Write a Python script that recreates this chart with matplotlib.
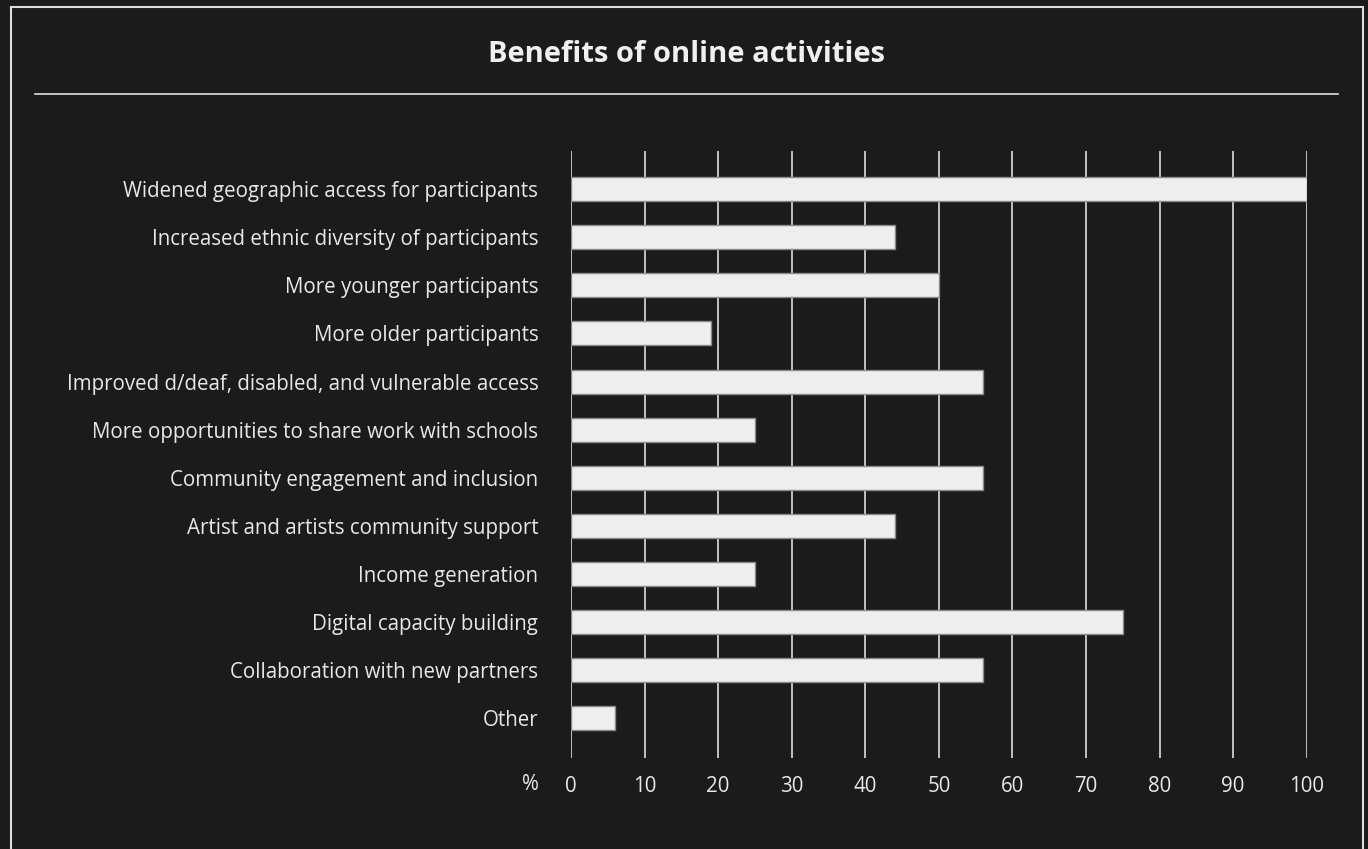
import matplotlib
matplotlib.use("Agg")
import matplotlib.pyplot as plt
from matplotlib.patches import Rectangle
from matplotlib.lines import Line2D

categories = [
    "Widened geographic access for participants",
    "Increased ethnic diversity of participants",
    "More younger participants",
    "More older participants",
    "Improved d/deaf, disabled, and vulnerable access",
    "More opportunities to share work with schools",
    "Community engagement and inclusion",
    "Artist and artists community support",
    "Income generation",
    "Digital capacity building",
    "Collaboration with new partners",
    "Other",
]
values = [100, 44, 50, 19, 56, 25, 56, 44, 25, 75, 56, 6]
xticks = [0, 10, 20, 30, 40, 50, 60, 70, 80, 90, 100]
title = "Benefits of online activities"

BG = "#1b1b1b"
FG = "#e8e8e8"
plt.rcParams['font.family'] = ['Open Sans', 'DejaVu Sans']

W, H = 1368, 849
fig = plt.figure(figsize=(W / 100, H / 100), dpi=100, facecolor=BG)

def fx(px):
    return px / W

def fy(py):
    return 1 - py / H

# outer border
fig.add_artist(Rectangle((fx(11), fy(900)), fx(1363) - fx(11), fy(6.5) - fy(900),
                         transform=fig.transFigure, fill=False,
                         edgecolor="#dddddd", linewidth=1.5))
# title
fig.text(fx(687), fy(54), title, ha="center", va="center", color="#f0f0f0",
         fontsize=21, fontweight="bold")
fig.add_artist(Line2D([fx(35), fx(1338)], [fy(94), fy(94)],
                      transform=fig.transFigure, color="#dddddd", linewidth=1.2))

left, right = 571, 1306.7
top, bottom = 150.7, 757.7
ax = fig.add_axes([fx(left), fy(bottom), fx(right) - fx(left), fy(top) - fy(bottom)])
ax.set_facecolor(BG)

ypos = list(range(len(categories)))
ax.barh(ypos, values, height=0.5, color="#eeeeee", edgecolor="#8a8a8a",
        linewidth=1.0, zorder=3)
ax.set_xlim(0, 100)
ax.set_ylim(11.82, -0.8)
ax.set_xticks(xticks)
ax.set_xticklabels([str(t) for t in xticks])
ax.set_yticks(ypos)
ax.set_yticklabels(categories)
ax.tick_params(axis="both", length=0, colors=FG, labelsize=14.8)
ax.tick_params(axis="y", pad=23.5)
ax.tick_params(axis="x", pad=13.5)
ax.grid(axis="x", color="#dddddd", linewidth=1.2, zorder=1)
ax.grid(axis="y", visible=False)
for s in ax.spines.values():
    s.set_visible(False)

fig.text(fx(539), fy(784), "%", ha="right", va="center", color=FG, fontsize=14.8)

fig.savefig("out.png", dpi=100, facecolor=BG)
